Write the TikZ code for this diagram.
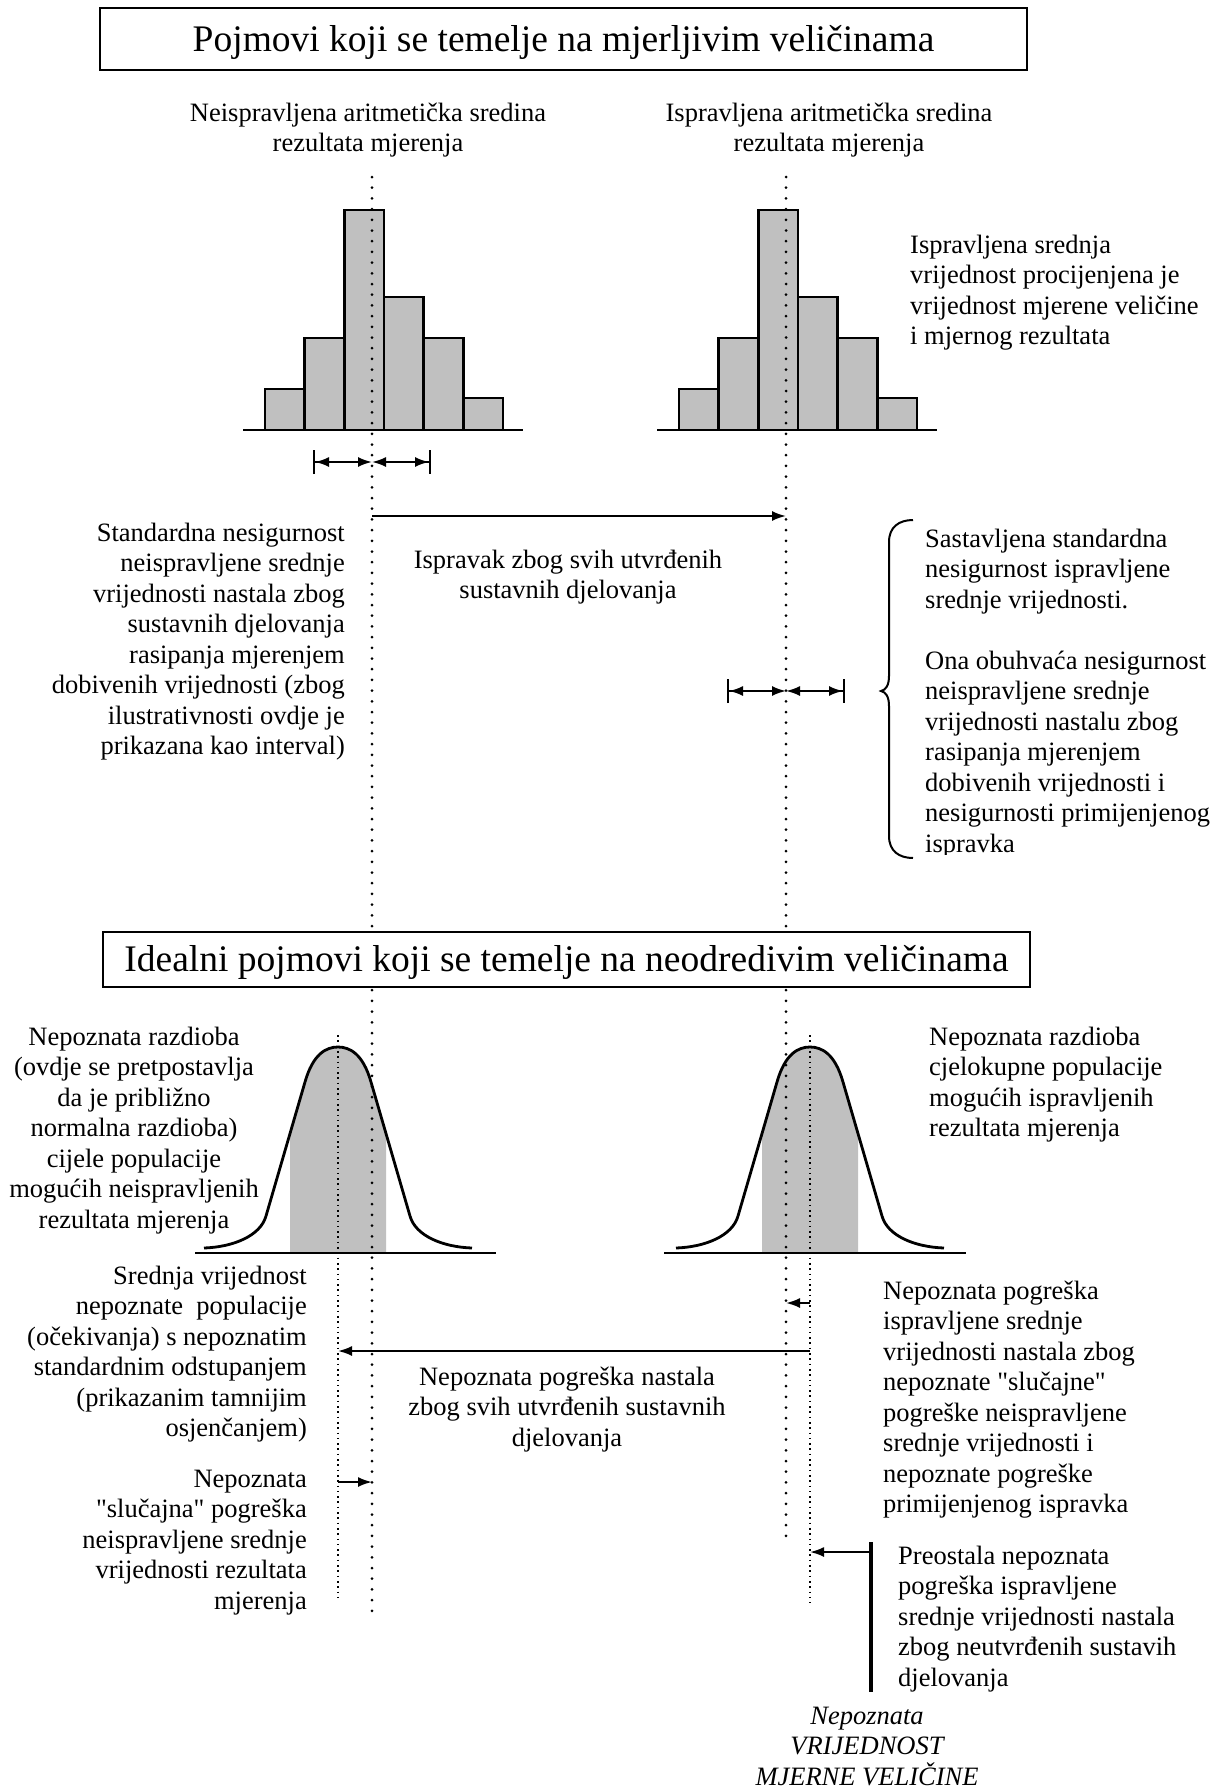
\documentclass[tikz,border=0pt]{standalone}
\usepackage{fontspec}
\setmainfont{Liberation Serif}[Ligatures=TeXOff]
\usetikzlibrary{arrows.meta,positioning}
\definecolor{binfill}{RGB}{192,192,192}

\newcommand\bellpath[1]{({#1-134},1248) .. controls ({#1-105},1247) and ({#1-77.6},1236) .. ({#1-72},1216)
  -- ({#1-33},1082) .. controls ({#1-25},1054) and ({#1-12},1047) .. (#1,1047)
  .. controls ({#1+12},1047) and ({#1+25},1054) .. ({#1+33},1082)
  -- ({#1+72},1216) .. controls ({#1+77.6},1236) and ({#1+105},1247) .. ({#1+134},1248)}

\tikzset{
  txt/.style={inner sep=0pt,font=\fontsize{26.5}{30.5}\selectfont},
  heading/.style={draw,line width=1.5pt,fill=white,inner sep=0pt,
    font=\fontsize{37.5}{40}\selectfont,text height=24.5pt,text depth=0pt},
  bin/.style={draw,fill=binfill,line width=2.5pt},
  axis/.style={line width=2.8pt},
  bell/.style={line width=2.8pt,line join=round},
  meanline/.style={line width=3pt,line cap=round,dash pattern=on 0pt off 10.7pt},
  popline/.style={line width=1.6pt,dash pattern=on 1.6pt off 3.7pt},
  arr/.style={line width=2pt,-{Latex[length=14pt,width=10pt]}},
  spreadl/.style={line width=2pt,{Bar[width=24pt]Latex[length=14pt,width=10pt]}-{Latex[length=14pt,width=10pt]}},
  spreadr/.style={line width=2pt,{Latex[length=14pt,width=10pt]}-{Latex[length=14pt,width=10pt]Bar[width=24pt]}},
}

\begin{document}
\begin{tikzpicture}[x=1pt,y=-1pt]
\useasboundingbox (0,0) rectangle (1229,1789);

\coordinate (mu) at (372,177);
\coordinate (mu end) at (372,1618);
\coordinate (mc) at (786,177);
\coordinate (mc end) at (786,1536);
\coordinate (pu) at (338,1035);
\coordinate (pu end) at (338,1602);
\coordinate (pc) at (810,1035);
\coordinate (pc end) at (810,1603);

% histograms
\foreach \dx in {0,414}{
  \foreach \h [count=\i from 0] in {389,338,210,297,338,398}
    \draw[bin] ({265+\dx+39.67*\i},430) rectangle ({304.67+\dx+39.67*\i},\h);
  \draw[axis] (243+\dx,430) -- (523+\dx,430);
}

% bell curves
\foreach \c/\l/\r in {338/195/496,810/664/966}{
  \begin{scope}
    \clip ({\c-48},1000) rectangle ({\c+48},1253);
    \fill[binfill] \bellpath{\c} -- ({\c+134},1253) -- ({\c-134},1253) -- cycle;
  \end{scope}
  \draw[bell] \bellpath{\c};
  \draw[axis] (\l,1253) -- (\r,1253);
}

\draw[meanline] (mu) -- (mu end);
\draw[meanline] (mc) -- (mc end);
\draw[popline] (pu) -- (pu end);
\draw[popline] (pc) -- (pc end);

\node[heading,minimum width=927pt,minimum height=62pt] (title1) at (563.5,39)
  {Pojmovi koji se temelje na mjerljivim veličinama};
\node[heading,minimum width=927pt,minimum height=55pt] (title2) at (566.5,959.5)
  {Idealni pojmovi koji se temelje na neodredivim veličinama};

\node[txt,align=center,anchor=base] (lab u) at (368,151.5)
  {Neispravljena aritmetička sredina\\rezultata mjerenja};
\node[txt,align=center,anchor=base] (lab c) at (829,151.5)
  {Ispravljena aritmetička sredina\\rezultata mjerenja};
\node[txt,align=left,anchor=base west] (est) at (910,344.5)
  {Ispravljena srednja\\vrijednost procijenjena je\\vrijednost mjerene veličine\\i mjernog rezultata};
\node[txt,align=right,anchor=base east] (unc u) at (345,754.5)
  {Standardna nesigurnost\\neispravljene srednje\\vrijednosti nastala zbog\\sustavnih djelovanja\\rasipanja mjerenjem\\dobivenih vrijednosti (zbog\\ilustrativnosti ovdje je\\prikazana kao interval)};
\node[txt,align=center,anchor=base] (corr) at (568,598.5)
  {Ispravak zbog svih utvrđenih\\sustavnih djelovanja};
\begin{scope}
  \clip (900,500) rectangle (1229,854);
  \node[txt,align=left,anchor=base west] (unc c) at (925,852)
    {Sastavljena standardna\\nesigurnost ispravljene\\srednje vrijednosti.\\[30.5pt]Ona obuhvaća nesigurnost\\neispravljene srednje\\vrijednosti nastalu zbog\\rasipanja mjerenjem\\dobivenih vrijednosti i\\nesigurnosti primijenjenog\\ispravka};
\end{scope}

\node[txt,align=center,anchor=base] (dist u) at (134,1228)
  {Nepoznata razdioba\\(ovdje se pretpostavlja\\da je približno\\normalna razdioba)\\cijele populacije\\mogućih neispravljenih\\rezultata mjerenja};
\node[txt,align=left,anchor=base west] (dist c) at (929,1136.5)
  {Nepoznata razdioba\\cjelokupne populacije\\mogućih ispravljenih\\rezultata mjerenja};
\node[txt,align=right,anchor=base east] (popmean) at (307,1436.5)
  {Srednja vrijednost\\nepoznate\ \ populacije\\(očekivanja) s nepoznatim\\standardnim odstupanjem\\(prikazanim tamnijim\\osjenčanjem)};
\node[txt,align=right,anchor=base east] (rand u) at (307,1609)
  {Nepoznata\\"slučajna" pogreška\\neispravljene srednje\\vrijednosti rezultata\\mjerenja};
\node[txt,align=center,anchor=base] (syserr) at (567,1446)
  {Nepoznata pogreška nastala\\zbog svih utvrđenih sustavnih\\djelovanja};
\node[txt,align=left,anchor=base west] (err c) at (883,1512.5)
  {Nepoznata pogreška\\ispravljene srednje\\vrijednosti nastala zbog\\nepoznate "slučajne"\\pogreške neispravljene\\srednje vrijednosti i\\nepoznate pogreške\\primijenjenog ispravka};
\node[txt,align=left,anchor=base west] (rest) at (898,1686)
  {Preostala nepoznata\\pogreška ispravljene\\srednje vrijednosti nastala\\zbog neutvrđenih sustavih\\djelovanja};
\node[txt,align=center,anchor=base,font=\fontsize{26.5}{30.5}\selectfont\itshape] (truth) at (867,1785)
  {Nepoznata\\VRIJEDNOST\\MJERNE VELIČINE};

% arrows
\coordinate (su l) at (313,462);
\coordinate (su m) at (372,462);
\coordinate (su r) at (431,462);
\coordinate (sc l) at (727,691);
\coordinate (sc m) at (786,691);
\coordinate (sc r) at (845,691);
\coordinate (corr a) at (372,516);
\coordinate (corr b) at (786,516);
\coordinate (e1 a) at (810,1303);
\coordinate (e1 b) at (786,1303);
\coordinate (e2 a) at (810,1351);
\coordinate (e2 b) at (338,1351);
\coordinate (e3 a) at (338,1482);
\coordinate (e3 b) at (372,1482);
\coordinate (e4 a) at (871,1552);
\coordinate (e4 b) at (810,1552);
\coordinate (post top) at (871,1542);
\coordinate (post bot) at (871,1692);

\draw[spreadl] (su l) -- (su m);
\draw[spreadr] (su m) -- (su r);
\draw[spreadl] (sc l) -- (sc m);
\draw[spreadr] (sc m) -- (sc r);
\draw[arr] (corr a) -- (corr b);
\draw[arr] (e1 a) -- (e1 b);
\draw[arr] (e2 a) -- (e2 b);
\draw[arr] (e3 a) -- (e3 b);
\draw[arr] (e4 a) -- (e4 b);
\draw[line width=3.5pt] (post top) -- (post bot);

% brace
\draw[line width=2pt] (913,520) .. controls (899,520) and (889,527) .. (889,542)
  -- (889,676) .. controls (889,685) and (886,690) .. (881,691)
  .. controls (886,692) and (889,697) .. (889,706)
  -- (889,836) .. controls (889,851) and (899,858) .. (913,858);
\end{tikzpicture}
\end{document}
